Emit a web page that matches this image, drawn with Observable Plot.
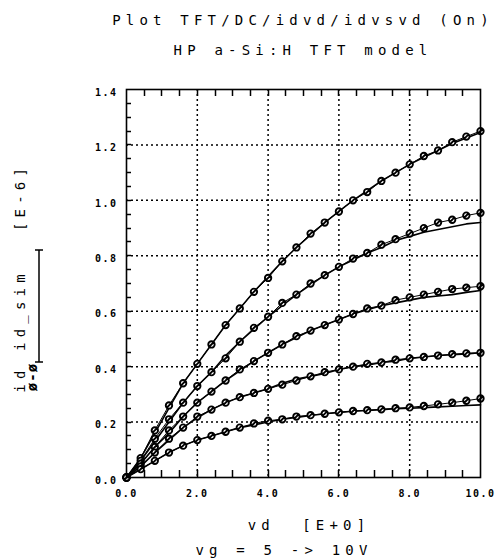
<!DOCTYPE html>
<html><head><meta charset="utf-8">
<script src="https://cdn.jsdelivr.net/npm/d3@7"></script>
<script src="https://cdn.jsdelivr.net/npm/@observablehq/plot@0.6"></script>
<style>
body{margin:0;background:#fff}
svg{display:block}
.ttl{font-family:"DejaVu Sans Mono",monospace;font-size:14px;letter-spacing:5.2px;fill:#000}
g[aria-label="x-axis tick label"] text, g[aria-label="y-axis tick label"] text{letter-spacing:1.5px}
</style>
</head><body><div id="chart"></div>
<script>
// drain voltage steps (V)
const vd = [0,0.4,0.8,1.2,1.6,2.0,2.4,2.8,3.2,3.6,4.0,4.4,4.8,5.2,5.6,6.0,6.4,6.8,7.2,7.6,8.0,8.4,8.8,9.2,9.6,10];
// measured id [E-6 A], one list per gate voltage (top to bottom)
const idMeasA = [0,0.07,0.17,0.26,0.34,0.41,0.48,0.55,0.61,0.67,0.72,0.78,0.83,0.88,0.92,0.96,1.00,1.03,1.07,1.10,1.13,1.16,1.18,1.21,1.23,1.25];
const idMeasB = [0,0.06,0.14,0.21,0.27,0.33,0.38,0.43,0.49,0.54,0.58,0.63,0.66,0.70,0.73,0.76,0.79,0.81,0.84,0.86,0.88,0.90,0.92,0.93,0.945,0.955];
const idMeasC = [0,0.05,0.11,0.17,0.22,0.27,0.31,0.35,0.39,0.42,0.45,0.48,0.51,0.53,0.55,0.57,0.59,0.61,0.62,0.64,0.65,0.66,0.67,0.68,0.685,0.69];
const idMeasD = [0,0.04,0.09,0.14,0.18,0.22,0.245,0.27,0.29,0.305,0.32,0.335,0.35,0.365,0.38,0.39,0.40,0.41,0.415,0.425,0.43,0.435,0.44,0.445,0.448,0.45];
const idMeasE = [0,0.03,0.06,0.09,0.115,0.135,0.15,0.165,0.18,0.195,0.205,0.21,0.22,0.225,0.23,0.235,0.24,0.243,0.246,0.25,0.253,0.258,0.264,0.27,0.277,0.285];
// simulated id_sim [E-6 A]
const idSimA = [0,0.07,0.16,0.25,0.34,0.41,0.48,0.55,0.61,0.67,0.725,0.78,0.83,0.875,0.92,0.96,1.00,1.035,1.07,1.10,1.13,1.155,1.18,1.205,1.225,1.245];
const idSimB = [0,0.06,0.13,0.20,0.27,0.33,0.38,0.44,0.49,0.535,0.58,0.62,0.66,0.695,0.73,0.76,0.785,0.81,0.83,0.855,0.87,0.885,0.895,0.905,0.915,0.92];
const idSimC = [0,0.05,0.11,0.16,0.22,0.27,0.31,0.35,0.385,0.42,0.45,0.48,0.505,0.53,0.55,0.57,0.59,0.605,0.62,0.63,0.64,0.65,0.655,0.66,0.668,0.675];
const idSimD = [0,0.04,0.09,0.135,0.18,0.215,0.245,0.27,0.29,0.305,0.32,0.34,0.355,0.365,0.375,0.39,0.40,0.405,0.415,0.42,0.43,0.435,0.44,0.443,0.446,0.45];
const idSimE = [0,0.03,0.06,0.09,0.115,0.135,0.15,0.165,0.18,0.19,0.2,0.21,0.217,0.224,0.23,0.235,0.239,0.242,0.245,0.248,0.25,0.252,0.255,0.257,0.26,0.262];
// ticks
const xMajor = [0,2,4,6,8,10];
const xGrid = [2,4,6,8];
const xMinor = [0.5,1,1.5,2,2.5,3,3.5,4,4.5,5,5.5,6,6.5,7,7.5,8,8.5,9,9.5];
const yMajor = [0,0.2,0.4,0.6,0.8,1.0,1.2,1.4];
const yGrid = [0.2,0.4,0.6,0.8,1.0,1.2];
const yMinor = [0.05,0.1,0.15,0.2,0.25,0.3,0.35,0.4,0.45,0.5,0.55,0.6,0.65,0.7,0.75,0.8,0.85,0.9,0.95,1.0,1.05,1.1,1.15,1.2,1.25,1.3,1.35];
// texts
const titleText = "Plot TFT/DC/idvd/idvsvd (On)";
const subtitleText = "HP a-Si:H TFT model";
const xTitle = "vd  [E+0]";
const captionText = "vg = 5 -> 10V";

const measSets = [idMeasA, idMeasB, idMeasC, idMeasD, idMeasE];
const simSets = [idSimA, idSimB, idSimC, idSimD, idSimE];
const meas = measSets.flatMap((s, k) => s.map((v, i) => ({curve: k, vd: vd[i], id: v})));
const sim = simSets.flatMap((s, k) => s.map((v, i) => ({curve: k, vd: vd[i], id: v})));

// plotter marker: circle with a slash
const slashCircle = {
  draw(context, size) {
    const r = Math.sqrt(size / Math.PI);
    context.moveTo(r, 0);
    context.arc(0, 0, r, 0, 2 * Math.PI);
    context.moveTo(-r * 0.8, r * 0.8);
    context.lineTo(r * 0.8, -r * 0.8);
  }
};

const chart = Plot.plot({
  width: 498, height: 560,
  marginLeft: 126, marginRight: 18, marginTop: 89, marginBottom: 83,
  style: {fontFamily: "DejaVu Sans Mono", fontSize: "10px", background: "white", color: "black"},
  x: {domain: [0, 10]},
  y: {domain: [0, 1.4]},
  marks: [
    Plot.gridX({ticks: xGrid, stroke: "black", strokeOpacity: 1, strokeWidth: 1.5, strokeDasharray: "2,3"}),
    Plot.gridY({ticks: yGrid, stroke: "black", strokeOpacity: 1, strokeWidth: 1.5, strokeDasharray: "2,3"}),
    Plot.line(sim, {x: "vd", y: "id", z: "curve", stroke: "black", strokeWidth: 1.6}),
    Plot.line(meas, {x: "vd", y: "id", z: "curve", stroke: "black", strokeWidth: 1}),
    Plot.dot(meas, {x: "vd", y: "id", r: 3.2, symbol: slashCircle, stroke: "black", strokeWidth: 1.9, fill: "white"}),
    Plot.axisX({anchor: "bottom", ticks: xMajor, tickSize: 0, tickPadding: 12, tickFormat: d3.format(".1f"), label: null, fontWeight: "bold", fontSize: 10, fill: "black"}),
    Plot.axisY({anchor: "left", ticks: yMajor, tickSize: 0, tickPadding: 9, dy: 3, tickFormat: d3.format(".1f"), label: null, fontWeight: "bold", fontSize: 10, fill: "black"}),
    Plot.frame({stroke: "black", strokeWidth: 1.6})
  ]
});
document.getElementById("chart").appendChild(chart);

const svg = d3.select(chart);
// inward minor ticks, positioned through the chart's own scales
const sx = chart.scale("x"), sy = chart.scale("y");
const x0 = sx.apply(0), yBot = sy.apply(0), yTop = sy.apply(1.4);
const tk = svg.append("g").attr("stroke", "black").attr("stroke-width", 1.5);
xMinor.forEach(v => {
  const px = Math.round(sx.apply(v)) + 0.5;
  tk.append("line").attr("x1", px).attr("x2", px).attr("y1", yBot).attr("y2", yBot - 7);
  tk.append("line").attr("x1", px).attr("x2", px).attr("y1", yTop).attr("y2", yTop + 7);
});
yMinor.forEach(v => {
  const py = Math.round(sy.apply(v)) + 0.5;
  tk.append("line").attr("x1", x0).attr("x2", x0 + 5).attr("y1", py).attr("y2", py);
});

const addText = (t, x, y, rot) => {
  const el = svg.append("text").attr("class", "ttl").attr("text-anchor", "middle").text(t);
  if (rot) el.attr("transform", `translate(${x},${y}) rotate(-90)`);
  else el.attr("x", x).attr("y", y);
  return el;
};
addText(titleText, 303, 25);
addText(subtitleText, 303, 55);
addText(xTitle, 309, 530);
addText(captionText, 284, 555);
// rotated y-axis title with legend keys
addText("id", 25, 379, true);
addText("id_sim", 25, 310, true);
addText("[E-6]", 25, 197, true);
addText("ø-ø", 37, 377, true).style("font-weight", "bold").style("letter-spacing", "1px");
const leg = svg.append("g").attr("stroke", "black").attr("stroke-width", 1.5);
leg.append("line").attr("x1", 39).attr("x2", 39).attr("y1", 250).attr("y2", 362);
leg.append("line").attr("x1", 35).attr("x2", 43).attr("y1", 250).attr("y2", 250);
leg.append("line").attr("x1", 35).attr("x2", 43).attr("y1", 362).attr("y2", 362);
</script>
</body></html>
